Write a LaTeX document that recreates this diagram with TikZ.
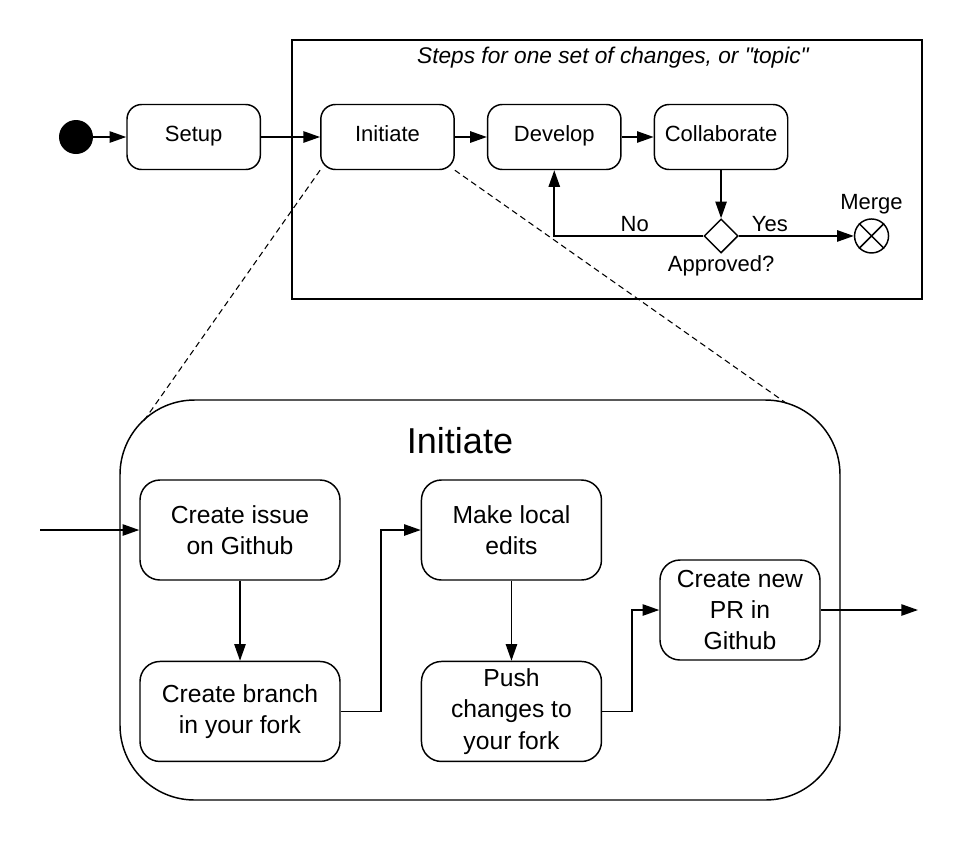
\documentclass[tikz,border=0pt]{standalone}
\usepackage{fontspec}
\setmainfont{Liberation Sans}
\newfontfamily\plainquotes{Liberation Sans}
\usepackage{tikz}
\usetikzlibrary{arrows.meta,positioning,shapes.geometric}

\begin{document}
\begin{tikzpicture}[
    x=0.75pt, y=-0.75pt,
    every node/.style={font=\fontsize{16.5}{19}\selectfont},
    stepbox/.style={draw, line width=1.1pt, rounded corners=11pt, minimum width=100pt, minimum height=48.75pt, text height=0.85em, text depth=0.15em},
    taskbox/.style={draw, line width=1.1pt, rounded corners=15pt, minimum width=150pt, minimum height=75pt, inner sep=2pt, align=center, font=\fontsize{18.5}{23.5}\selectfont},
    dot/.style={circle, minimum size=25.5pt, inner sep=0pt},
    lbl/.style={inner sep=3pt, text depth=0pt},
    arr/.style={-{Triangle[length=12.5pt, width=8.5pt]}, line width=1.2pt},
    zoomline/.style={dashed, dash pattern=on 4.5pt off 3pt, line width=0.8pt}
]
    \useasboundingbox (0,0) rectangle (960,840);

    % top level flow
    \node[dot, fill=black] (start) at (76,137) {};
    \node[stepbox, right=24.75pt of start] (setup) {Setup};
    \node[stepbox, right=44.25pt of setup] (init) {Initiate};
    \node[stepbox, right=24pt of init] (develop) {Develop};
    \node[stepbox, right=24pt of develop] (collab) {Collaborate};
    \node[draw, diamond, line width=1.1pt, minimum size=25.5pt, inner sep=0pt, below=36pt of collab] (approve) {};
    \node[dot, draw, line width=1.1pt, right=86.25pt of approve] (merge) {};
    \draw[line width=1.1pt] (merge.north west) -- (merge.south east) (merge.north east) -- (merge.south west);
    \node[lbl, anchor=base, yshift=6.75pt] (mergelbl) at (merge.north) {Merge};
    \node[lbl, anchor=base, yshift=-13pt] (apprlbl) at (approve.south) {Approved?};

    % one topic
    \node[draw, line width=1.2pt, minimum width=472.5pt, minimum height=194.25pt, inner sep=0pt] (topic) at (607,169.5) {};
    \node[anchor=base, font=\plainquotes\itshape\fontsize{17}{20}\selectfont] (topictitle) at (613,63) {Steps for one set of changes, or "topic"};

    \draw[arr] (start) -- (setup);
    \draw[arr] (setup) -- (init);
    \draw[arr] (init) -- (develop);
    \draw[arr] (develop) -- (collab);
    \draw[arr] (collab) -- (approve);
    \draw[arr] (approve.west) -| node[lbl, above, pos=0.23] (nolbl) {No} (develop.south);
    \draw[arr] (approve.east) -- node[lbl, above, pos=0.27] (yeslbl) {Yes} (merge.west);

    % detail of Initiate
    \node[draw, line width=1.1pt, rounded corners=56pt, minimum width=540pt, minimum height=300pt, inner sep=0pt] (initbig) at (480,600) {};
    \node[anchor=base, font=\fontsize{27}{32}\selectfont] (inittitle) at (460,453) {Initiate};
    \coordinate (zl) at (143,422);
    \coordinate (zr) at (786,403);
    \draw[zoomline] (init.south west) -- (zl);
    \draw[zoomline] (init.south east) -- (zr);

    \node[taskbox] (issue) at (240,530) {Create issue\\on Github};
    \node[taskbox, below=60pt of issue] (branch) {Create branch\\in your fork};
    \node[taskbox, minimum width=135pt, right=60pt of issue] (edits) {Make local\\edits};
    \node[taskbox, minimum width=135pt, below=60pt of edits] (push) {Push\\changes to\\your fork};
    \node[taskbox, minimum width=120pt] (newpr) at (740,610) {Create new\\PR in\\Github};
    \coordinate (inflow) at (40,530);
    \coordinate (outflow) at (918,610);

    \draw[arr] (inflow) -- (issue);
    \draw[arr] (issue) -- (branch);
    \draw[arr] (branch.east) -- ++(30pt,0) |- (edits.west);
    \draw[arr] (edits) -- (push);
    \draw[arr] (push.east) -- ++(22.5pt,0) |- (newpr.west);
    \draw[arr] (newpr) -- (outflow);
\end{tikzpicture}
\end{document}
